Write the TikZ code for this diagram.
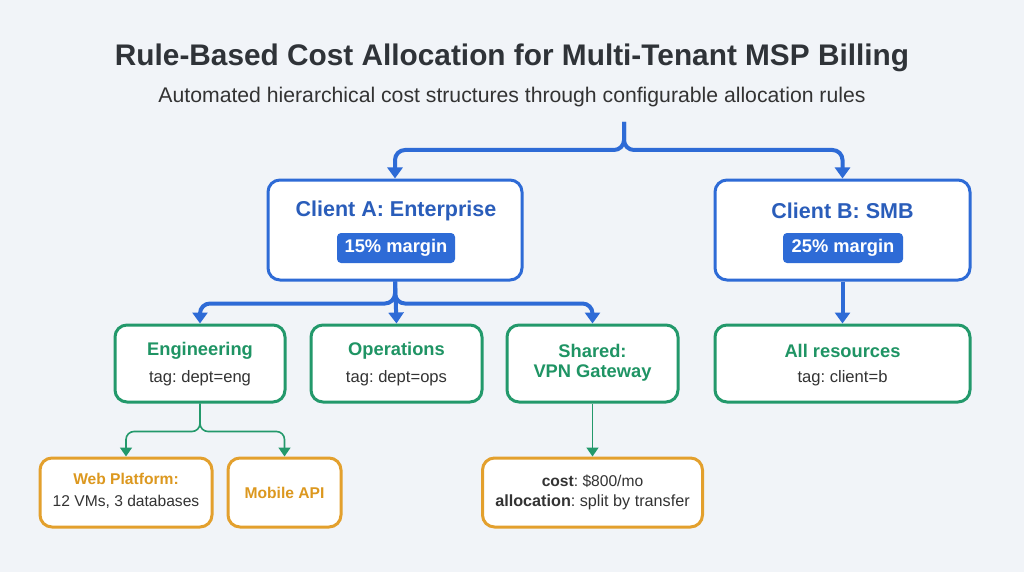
\documentclass[tikz,border=0pt]{standalone}
\usepackage{fontspec}
\setmainfont{Liberation Sans}
\usetikzlibrary{arrows.meta,calc}
\definecolor{bgc}{HTML}{F1F4F8}
\definecolor{titlec}{HTML}{2F3338}
\definecolor{blue}{HTML}{2E6BD6}
\definecolor{bluetext}{HTML}{2A5DBA}
\definecolor{green}{HTML}{23996B}
\definecolor{greentext}{HTML}{1F9464}
\definecolor{orange}{HTML}{E3A02D}
\definecolor{orangetext}{HTML}{DC981F}
\definecolor{darktext}{HTML}{333333}
\frenchspacing
\begin{document}
\begin{tikzpicture}[x=1pt,y=-1pt,
  box/.style={draw, fill=white, rounded corners=12pt, inner sep=0pt},
  bluebox/.style={box, draw=blue, line width=3pt},
  greenbox/.style={box, draw=green, line width=3pt},
  orangebox/.style={box, draw=orange, line width=3pt},
  badge/.style={fill=blue, rounded corners=4pt, text=white, font=\fontsize{18.3}{21}\selectfont\bfseries, minimum width=118pt, minimum height=30pt, inner sep=0pt},
  bluelabel/.style={text=bluetext, font=\fontsize{21.5}{25}\selectfont\bfseries},
  greenlabel/.style={text=greentext, font=\fontsize{18.3}{22}\selectfont\bfseries},
  orangelabel/.style={text=orangetext, font=\fontsize{15.6}{18}\selectfont\bfseries},
  sublabel/.style={text=darktext, font=\fontsize{16.6}{19}\selectfont},
  smalllabel/.style={text=darktext, font=\fontsize{15.6}{18}\selectfont},
  bluearrow/.style={draw=blue, line width=4pt, rounded corners=10pt, -{Triangle[width=15pt,length=11pt]}},
  greenarrow/.style={draw=green, line width=1.6pt, rounded corners=8pt, -{Triangle[width=12pt,length=9pt]}},
]
\fill[bgc] (0,0) rectangle (1024,572);
\useasboundingbox (0,0) rectangle (1024,572);

\node[text=titlec, font=\fontsize{29.8}{34}\selectfont\bfseries] (title) at (512,58) {Rule-Based Cost Allocation for Multi-Tenant MSP Billing};
\node[text=darktext, font=\fontsize{21.2}{24}\selectfont] (subtitle) at (512,97) {Automated hierarchical cost structures through configurable allocation rules};
\coordinate (top) at (624,122);

% clients
\node[bluebox, minimum width=254pt, minimum height=100pt] (cA) at (395,230) {};
\node[bluelabel] (cAt) at (396,211) {Client A: Enterprise};
\node[badge] (cAb) at (396,248) {15\% margin};

\node[bluebox, minimum width=255pt, minimum height=100pt] (cB) at (842.5,230) {};
\node[bluelabel] (cBt) at (842.5,211) {Client B: SMB};
\node[badge, minimum width=120pt] (cBb) at (843,248) {25\% margin};

% departments
\node[greenbox, minimum width=170pt, minimum height=77pt] (eng) at (200,363.5) {};
\node[greenlabel] at (200,351) {Engineering};
\node[sublabel] at (200,378) {tag: dept=eng};

\node[greenbox, minimum width=171pt, minimum height=77pt] (ops) at (396.5,363.5) {};
\node[greenlabel] at (396.5,351) {Operations};
\node[sublabel] at (396.5,378) {tag: dept=ops};

\node[greenbox, minimum width=171pt, minimum height=77pt] (shared) at (592.5,363.5) {};
\node[greenlabel] at (592.5,351) {Shared:};
\node[greenlabel] at (592.5,373) {VPN Gateway};

\node[greenbox, minimum width=255pt, minimum height=77pt] (allres) at (842.5,363.5) {};
\node[greenlabel] at (842.5,351) {All resources};
\node[sublabel] at (842.5,378) {tag: client=b};

% resources
\node[orangebox, minimum width=172pt, minimum height=69pt] (web) at (126,492.5) {};
\node[orangelabel] at (126,479) {Web Platform:};
\node[smalllabel] at (126,502) {12 VMs, 3 databases};

\node[orangebox, minimum width=113pt, minimum height=69pt] (mobile) at (284.5,492.5) {};
\node[orangelabel] at (284.5,492.5) {Mobile API};

\node[orangebox, minimum width=220pt, minimum height=69pt] (cost) at (592.5,492.5) {};
\node[smalllabel] at (592.5,481) {\textbf{cost}: \$800/mo};
\node[smalllabel, font=\fontsize{16.2}{19}\selectfont] at (592.5,502) {\textbf{allocation}: split by transfer};

% connectors
\draw[bluearrow] (top) -- ++(0,28) -| (cA.north);
\draw[bluearrow] (top) -- ++(0,28) -| (cB.north);
\draw[bluearrow] (cA.south) -- ++(0,22) -| (eng.north);
\draw[bluearrow] (cA.south) -- (ops.north);
\draw[bluearrow] (cA.south) -- ++(0,22) -| (shared.north);
\draw[bluearrow] (cB.south) -- (allres.north);

\draw[greenarrow] (eng.south) -- ++(0,28) -| (web.north);
\draw[greenarrow] (eng.south) -- ++(0,28) -| (mobile.north);
\draw[greenarrow] (shared.south) -- (cost.north);
\end{tikzpicture}
\end{document}
